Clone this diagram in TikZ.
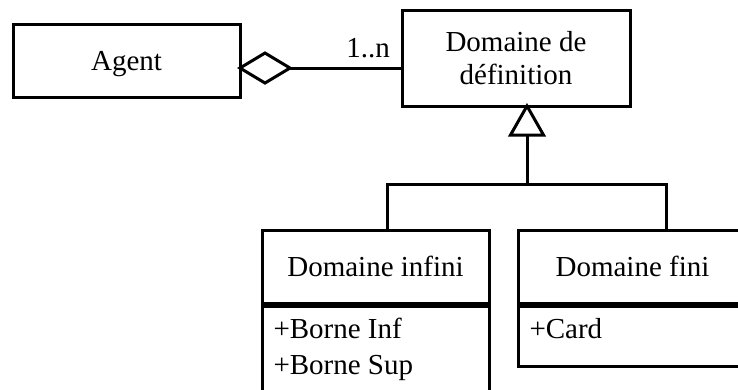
\documentclass[tikz,border=0pt]{standalone}
\usepackage{fontspec}
\setmainfont{Liberation Serif}
\begin{document}
\begin{tikzpicture}[x=1pt,y=-1pt,line width=3pt,line join=miter,
  txt/.style={font=\fontsize{29}{33}\selectfont},
  box/.style={draw,rectangle,inner sep=0pt,txt,align=center},
  attr/.style={txt,inner sep=0pt,anchor=base west}]
\useasboundingbox (0,0) rectangle (738,389);
\clip (0,0) rectangle (738,389);
% classes
\node[box,minimum width=227pt,minimum height=73pt,text depth=0pt] (agent) at (126.5,60.5) {Agent};
\node[box,minimum width=228pt,minimum height=96pt] (dom) at (516,58) {Domaine de\\définition};
\node[box,minimum width=227pt,minimum height=73pt] (infH) at (375.5,266.5) {Domaine infini};
\node[box,minimum width=227pt,minimum height=120pt,anchor=north] (infA) at (infH.south) {};
\node[box,minimum width=229pt,minimum height=73pt] (finH) at (632.5,266.5) {Domaine fini};
\node[box,minimum width=229pt,minimum height=60pt,anchor=north] (finA) at (finH.south) {};
% attributes
\node[attr] (bi) at (272,338) {+Borne Inf};
\node[attr] (bs) at (272,374) {+Borne Sup};
\node[attr] (cd) at (528,338) {+Card};
% aggregation
\coordinate (dL) at (240,68);
\coordinate (dT) at (265,53);
\coordinate (dR) at (290,68);
\coordinate (dB) at (265,83);
\draw (dL) -- (dT) -- (dR) -- (dB) -- cycle;
\draw (dR) -- (dom.west |- dR);
\node[txt,inner sep=0pt,anchor=base] (mult) at (368,57) {1..n};
% generalisation
\coordinate (tA) at (527,106);
\coordinate (tL) at (510.5,135);
\coordinate (tR) at (543.5,135);
\coordinate (tB) at (527,135);
\coordinate (jn) at (527,184);
\draw (tA) -- (tR) -- (tL) -- cycle;
\draw (tB) -- (jn);
\draw (infH.north -| 387,0) |- (jn) -| (finH.north -| 666,0);
\end{tikzpicture}
\end{document}
